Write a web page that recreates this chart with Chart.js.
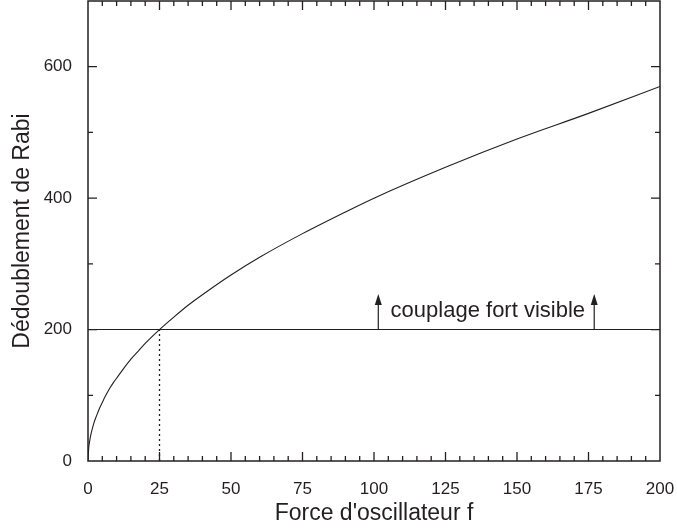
<!DOCTYPE html>
<html>
<head>
<meta charset="utf-8">
<script src="https://cdn.jsdelivr.net/npm/chart.js@4.4.1/dist/chart.umd.min.js"></script>
<style>
  html, body { margin: 0; padding: 0; background: #fff; }
  #wrap { width: 677px; height: 531px; }
</style>
</head>
<body>
<div id="wrap"><canvas id="chart"></canvas></div>
<script>
// Rabi splitting vs oscillator strength
const forceValues = [0, 0.25, 0.5, 1, 1.5, 2, 3, 4, 5, 6, 7.5, 9, 10, 12.5, 15, 17.5, 20, 25, 30, 35, 40, 50, 60, 75, 90, 100, 125, 150, 175, 200];
const rabiValues  = [0, 20, 28, 40, 49, 57, 69, 80, 89, 98, 110, 120, 126, 141, 155, 167, 179, 200, 219, 237, 253, 283, 310, 346, 379, 400, 447, 490, 529, 570];

const thresholdX = [0, 200];
const thresholdY = [200, 200];
const dottedX = [25, 25];
const dottedY = [0, 200];

const arrowX = [101.5, 177];
const arrowFrom = 200;
const arrowTo = 254;
const noteText = 'couplage fort visible';
const noteX = 139.8;
const noteY = 228;

const xTitle = "Force d'oscillateur f";
const yTitle = 'Dédoublement de Rabi';

const INK = '#231f20';
Chart.defaults.font.family = "'Liberation Sans', Arial, sans-serif";
Chart.defaults.color = INK;

// frame with inward ticks, arrows and the note
const framePlugin = {
    id: 'frame',
    afterDatasetsDraw(chart) {
        const ctx = chart.ctx;
        const a = chart.chartArea;
        const xs = chart.scales.x, ys = chart.scales.y;
        ctx.save();
        ctx.strokeStyle = INK;
        ctx.lineWidth = 1.5;
        ctx.strokeRect(a.left, a.top, a.right - a.left, a.bottom - a.top);

        ctx.lineWidth = 1.3;
        ctx.beginPath();
        for (let v = 5; v < 200; v += 5) {
            const len = v % 25 === 0 ? 9 : 5;
            const px = xs.getPixelForValue(v);
            ctx.moveTo(px, a.bottom); ctx.lineTo(px, a.bottom - len);
            ctx.moveTo(px, a.top); ctx.lineTo(px, a.top + len);
        }
        for (let v = 100; v < 700; v += 100) {
            const len = v % 200 === 0 ? 9 : 5;
            const py = ys.getPixelForValue(v);
            ctx.moveTo(a.left, py); ctx.lineTo(a.left + len, py);
            ctx.moveTo(a.right, py); ctx.lineTo(a.right - len, py);
        }
        ctx.stroke();

        // arrows
        ctx.lineWidth = 1.2;
        ctx.fillStyle = INK;
        arrowX.forEach(v => {
            const px = xs.getPixelForValue(v);
            const y0 = ys.getPixelForValue(arrowFrom);
            const y1 = ys.getPixelForValue(arrowTo);
            ctx.beginPath();
            ctx.moveTo(px, y0); ctx.lineTo(px, y1 + 8);
            ctx.stroke();
            ctx.beginPath();
            ctx.moveTo(px, y1); ctx.lineTo(px - 3.5, y1 + 11); ctx.lineTo(px + 3.5, y1 + 11);
            ctx.closePath(); ctx.fill();
        });

        ctx.font = "22px 'Liberation Sans', Arial, sans-serif";
        ctx.textAlign = 'center';
        ctx.textBaseline = 'middle';
        ctx.fillText(noteText, xs.getPixelForValue(noteX), ys.getPixelForValue(noteY));
        ctx.restore();
    }
};

new Chart(document.getElementById('chart'), {
    type: 'scatter',
    data: {
        datasets: [
            {
                data: forceValues.map((x, i) => ({ x: x, y: rabiValues[i] })),
                showLine: true, borderColor: INK, borderWidth: 1.1, pointRadius: 0,
                cubicInterpolationMode: 'monotone'
            },
            {
                data: thresholdX.map((x, i) => ({ x: x, y: thresholdY[i] })),
                showLine: true, borderColor: INK, borderWidth: 1.1, pointRadius: 0
            },
            {
                data: dottedX.map((x, i) => ({ x: x, y: dottedY[i] })),
                showLine: true, borderColor: INK, borderWidth: 1.3, pointRadius: 0,
                borderDash: [2, 3]
            }
        ]
    },
    options: {
        responsive: true,
        maintainAspectRatio: false,
        animation: false,
        events: [],
        layout: { autoPadding: false, padding: { top: 1, right: 17, left: 0, bottom: 0 } },
        plugins: { legend: { display: false }, tooltip: { enabled: false } },
        scales: {
            x: {
                type: 'linear', min: 0, max: 200,
                grid: { display: false }, border: { display: false },
                ticks: { stepSize: 25, padding: 10, font: { size: 17 }, color: INK, maxRotation: 0 },
                title: { display: true, text: xTitle, font: { size: 23 }, color: INK, padding: { top: 9 } },
                afterFit(s) { s.height = 70; s.paddingLeft = 0; s.paddingRight = 0; }
            },
            y: {
                type: 'linear', min: 0, max: 700,
                grid: { display: false }, border: { display: false },
                ticks: { stepSize: 200, includeBounds: false, padding: 8, font: { size: 17 }, color: INK },
                afterBuildTicks(s) { s.ticks = s.ticks.filter(t => t.value % 200 === 0); },
                title: { display: true, text: yTitle, font: { size: 23 }, color: INK, padding: { top: 9, bottom: 0 } },
                afterFit(s) { s.width = 88; s.paddingTop = 0; s.paddingBottom = 0; }
            }
        }
    },
    plugins: [framePlugin]
});
</script>
</body>
</html>
